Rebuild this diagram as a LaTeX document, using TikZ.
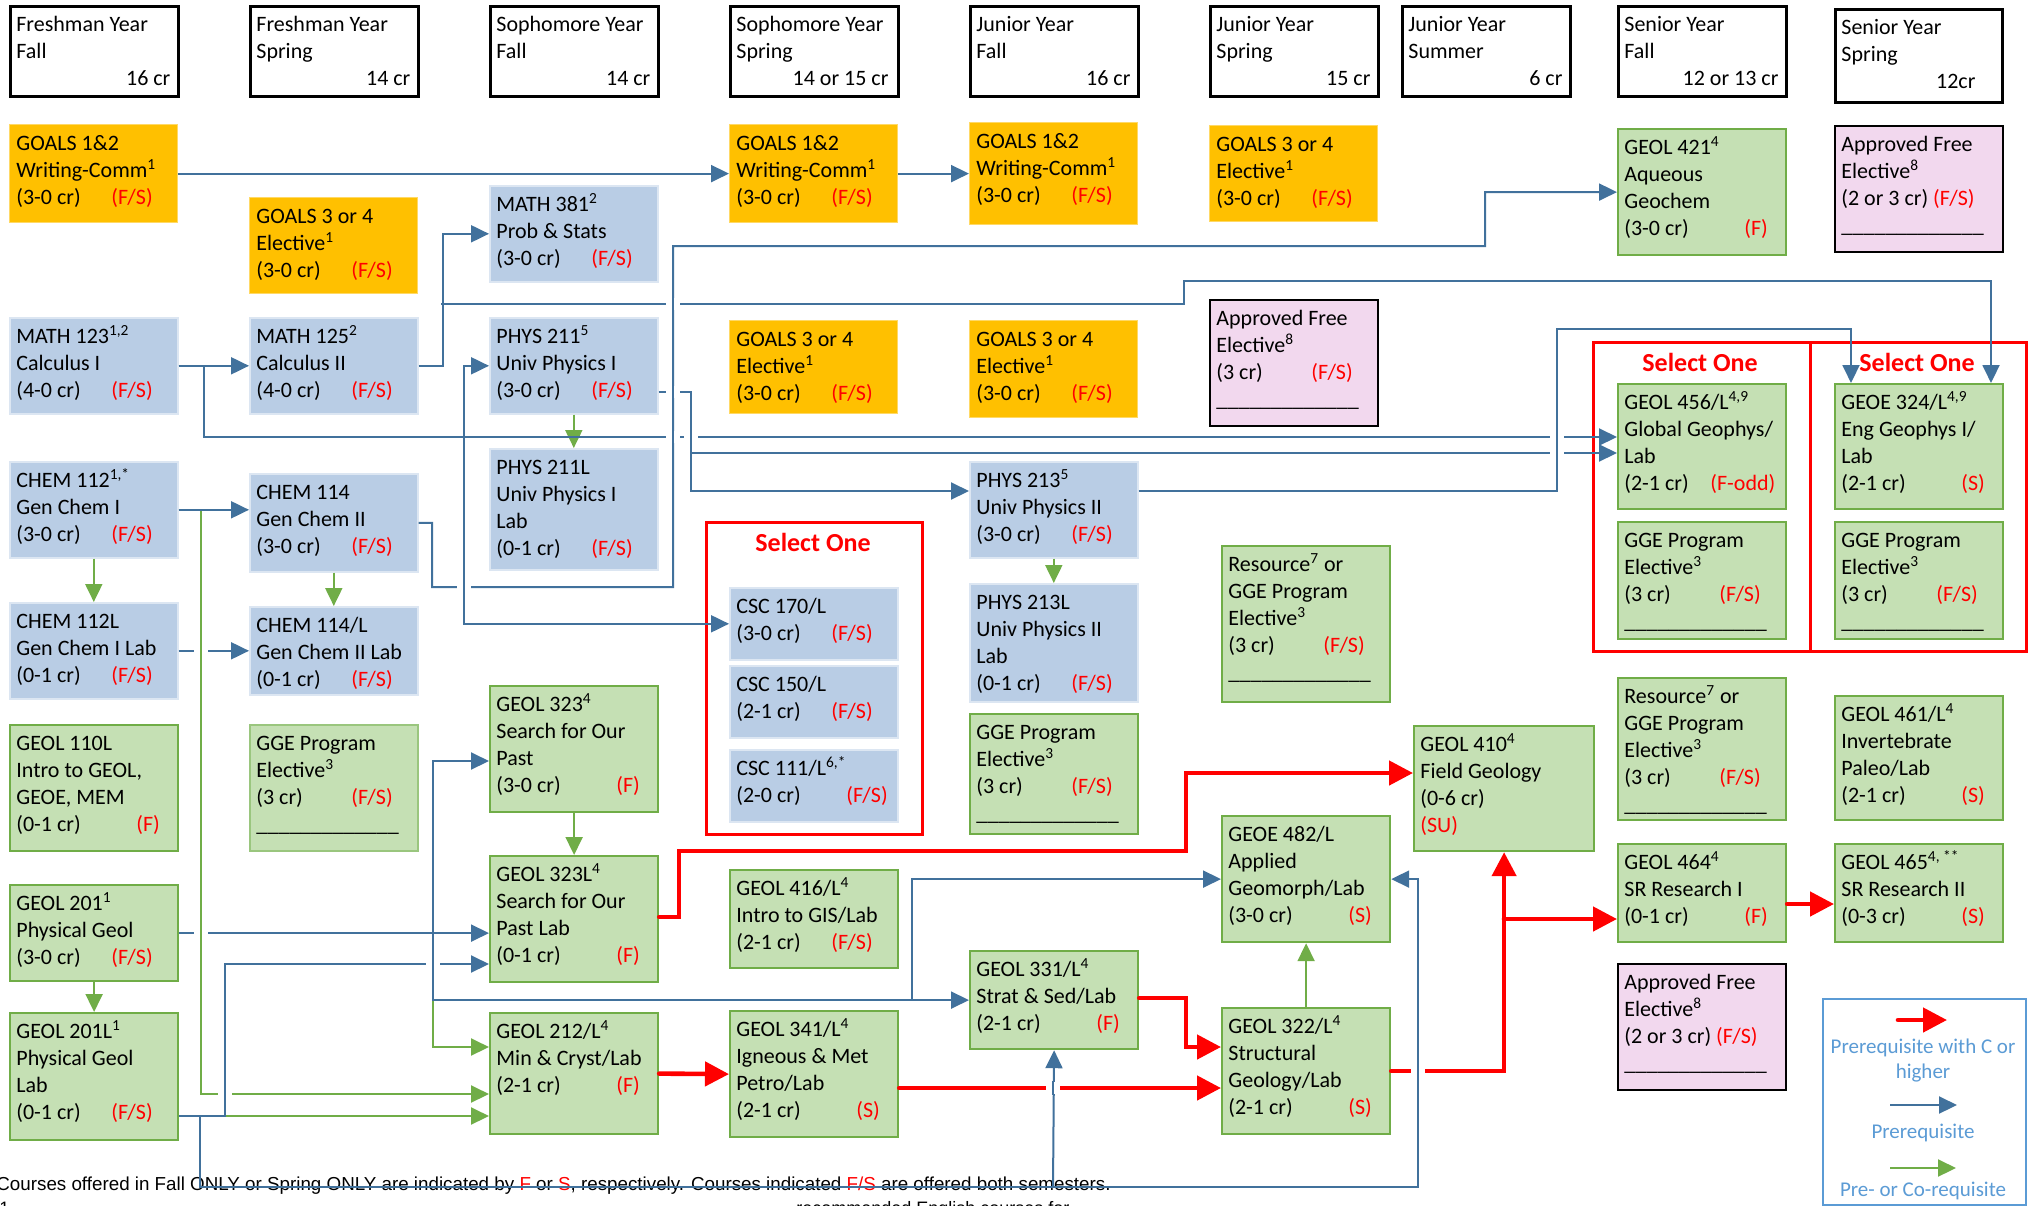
\documentclass[tikz,border=0pt]{standalone}
\usepackage{fontspec}
\usepackage{graphicx}
\setmainfont{Carlito}
\newfontfamily\arialf{Liberation Sans}
\usetikzlibrary{arrows.meta}
\definecolor{bl}{RGB}{65,113,156}
\definecolor{gr}{RGB}{112,173,71}
\definecolor{orf}{RGB}{255,192,0}
\definecolor{blf}{RGB}{185,205,229}
\definecolor{grf}{RGB}{197,224,180}
\definecolor{pkf}{RGB}{242,216,238}
\definecolor{lg}{RGB}{91,155,213}
\definecolor{rd}{RGB}{255,0,0}
\newcommand\sps[1]{\textsuperscript{#1}}
\newcommand\tg[3]{\makebox[#1pt][l]{#2}\textcolor{rd}{#3}}
\newcommand\blnk{\_\_\_\_\_\_\_\_\_\_\_\_\_}
\newcommand\crs[7]{%
  \node[#2, anchor=north west, minimum width=#5pt, minimum height=#6pt] (#1) at (#3,#4) {};
  \node[txt] (#1-t) at ([xshift=3.5pt,yshift=-3.5pt]#1.north west) {\strut #7};}
\newcommand\gap[4]{%
  \fill[white] (#1-7,#2-6) rectangle (#1+7,#2+6);
  \draw[#3, line width=#4] (#1,#2-7) -- (#1,#2+7);}
\begin{document}
\begin{tikzpicture}[x=0.5pt,y=-0.5pt,
  txt/.style={inner sep=0pt, anchor=north west, align=left, font=\fontsize{11}{13.5}\selectfont},
  hdr/.style={draw=black, line width=1.3pt, fill=white, inner sep=0pt},
  ob/.style={fill=orf, draw=orf!60!white, line width=0.6pt, inner sep=0pt},
  bb/.style={fill=blf, draw=blf!50!white, line width=0.8pt, inner sep=0pt},
  gb/.style={fill=grf, draw=gr, line width=1.1pt, inner sep=0pt},
  gbl/.style={fill=grf, draw=gr!50!grf, line width=0.8pt, inner sep=0pt},
  pb/.style={fill=pkf, draw=black, line width=1.2pt, inner sep=0pt},
  selbox/.style={draw=rd, line width=1.6pt, inner sep=0pt, anchor=north west},
  seltitle/.style={text=rd, font=\bfseries\fontsize{13}{15}\selectfont, inner sep=0pt},
  pre/.style={draw=bl, line width=1pt, -{Triangle[length=9pt,width=8.5pt]}},
  ln/.style={draw=bl, line width=1pt},
  co/.style={draw=gr, line width=1pt, -{Triangle[length=9pt,width=8.5pt]}},
  crit/.style={draw=rd, line width=2.3pt, line cap=round, -{Triangle[length=12pt,width=12pt]}},
  lgt/.style={text=lg, align=center, inner sep=0pt, font=\fontsize{10.5}{12.5}\selectfont}]
\useasboundingbox (0,0) rectangle (2028,1205);
\fill[white] (0,0) rectangle (2028,1205);

% footnote text (under the lines)
\node[anchor=west, inner sep=0pt] (fn) at (-4,1186) {\resizebox{557pt}{!}{\arialf\fontsize{9}{11}\selectfont Courses offered in Fall ONLY or Spring ONLY are indicated by \textcolor{rd}{F} or \textcolor{rd}{S}, respectively. Courses indicated \textcolor{rd}{F/S} are offered both semesters.}};
\node[anchor=base west, inner sep=0pt, font=\arialf\fontsize{9}{11}\selectfont] (fn1) at (-1,1214) {1};
\node[anchor=base west, inner sep=0pt, font=\arialf\fontsize{9}{11}\selectfont] (fn2) at (796,1214) {recommended English courses for};

% select-one frames
\node[selbox, minimum width=108pt, minimum height=156pt] (s4) at (705,521) {};
\node[selbox, minimum width=108.5pt, minimum height=154.5pt] (s8) at (1592,341) {};
\node[selbox, minimum width=108pt, minimum height=154.5pt] (s9) at (1809,341) {};
\node[seltitle] (s4t) at (813,542) {Select One};
\node[seltitle] (s8t) at (1700,362) {Select One};
\node[seltitle] (s9t) at (1917,362) {Select One};

% headers
\crs{hFF}{hdr}{9}{5}{84}{45}{Freshman Year\\Fall\\\makebox[77pt][r]{16 cr}}
\crs{hFSp}{hdr}{249}{5}{84}{45}{Freshman Year\\Spring\\\makebox[77pt][r]{14 cr}}
\crs{hSoF}{hdr}{489}{5}{84}{45}{Sophomore Year\\Fall\\\makebox[77pt][r]{14 cr}}
\crs{hSoSp}{hdr}{729}{5}{84}{45}{Sophomore Year\\Spring\\\makebox[76pt][r]{14 or 15 cr}}
\crs{hJF}{hdr}{969}{5}{84}{45}{Junior Year\\Fall\\\makebox[77pt][r]{16 cr}}
\crs{hJSp}{hdr}{1209}{5}{84}{45}{Junior Year\\Spring\\\makebox[77pt][r]{15 cr}}
\crs{hJSu}{hdr}{1401}{5}{84}{45}{Junior Year\\Summer\\\makebox[77pt][r]{6 cr}}
\crs{hSeF}{hdr}{1617}{5}{84}{45}{Senior Year\\Fall\\\makebox[77pt][r]{12 or 13 cr}}
\crs{hSeSp}{hdr}{1834}{8}{83.5}{46.5}{Senior Year\\Spring\\\makebox[67pt][r]{12cr}}

% orange
\crs{g1}{ob}{9}{124}{84}{49}{GOALS 1\&2\\Writing-Comm\sps{1}\\\tg{47.5}{(3-0 cr)}{(F/S)}}
\crs{g2}{ob}{249}{197}{84}{48}{GOALS 3 or 4\\Elective\sps{1}\\\tg{47.5}{(3-0 cr)}{(F/S)}}
\crs{g3}{ob}{729}{124}{84}{49}{GOALS 1\&2\\Writing-Comm\sps{1}\\\tg{47.5}{(3-0 cr)}{(F/S)}}
\crs{g4}{ob}{729}{320}{84}{46.5}{GOALS 3 or 4\\Elective\sps{1}\\\tg{47.5}{(3-0 cr)}{(F/S)}}
\crs{g5}{ob}{969}{122}{84}{51}{GOALS 1\&2\\Writing-Comm\sps{1}\\\tg{47.5}{(3-0 cr)}{(F/S)}}
\crs{g6}{ob}{969}{320}{84}{48.5}{GOALS 3 or 4\\Elective\sps{1}\\\tg{47.5}{(3-0 cr)}{(F/S)}}
\crs{g7}{ob}{1209}{125}{84}{48}{GOALS 3 or 4\\Elective\sps{1}\\\tg{47.5}{(3-0 cr)}{(F/S)}}

% blue
\crs{m123}{bb}{9}{317}{84}{48}{MATH 123\sps{1,2}\\Calculus I\\\tg{47.5}{(4-0 cr)}{(F/S)}}
\crs{m125}{bb}{249}{317}{84}{48}{MATH 125\sps{2}\\Calculus II\\\tg{47.5}{(4-0 cr)}{(F/S)}}
\crs{m381}{bb}{489}{185}{84}{48}{MATH 381\sps{2}\\Prob \& Stats\\\tg{47.5}{(3-0 cr)}{(F/S)}}
\crs{p211}{bb}{489}{317}{84}{48}{PHYS 211\sps{5}\\Univ Physics I\\\tg{47.5}{(3-0 cr)}{(F/S)}}
\crs{p211L}{bb}{489}{448}{84}{60.5}{PHYS 211L\\Univ Physics I\\Lab\\\tg{47.5}{(0-1 cr)}{(F/S)}}
\crs{c112}{bb}{9}{461}{84}{48}{CHEM 112\sps{1,*}\\Gen Chem I\\\tg{47.5}{(3-0 cr)}{(F/S)}}
\crs{c112L}{bb}{9}{602}{84}{48}{CHEM 112L\\Gen Chem I Lab\\\tg{47.5}{(0-1 cr)}{(F/S)}}
\crs{c114}{bb}{249}{473}{84}{49}{CHEM 114\\Gen Chem II\\\tg{47.5}{(3-0 cr)}{(F/S)}}
\crs{c114L}{bb}{249}{606}{84}{44}{CHEM 114/L\\Gen Chem II Lab\\\tg{47.5}{(0-1 cr)}{(F/S)}}
\crs{csc170}{bb}{729}{587}{84}{36}{CSC 170/L\\\tg{47.5}{(3-0 cr)}{(F/S)}}
\crs{csc150}{bb}{729}{665}{84}{36}{CSC 150/L\\\tg{47.5}{(2-1 cr)}{(F/S)}}
\crs{csc111}{bb}{729}{749}{84}{36}{CSC 111/L\sps{6,*}\\\tg{55}{(2-0 cr)}{(F/S)}}
\crs{p213}{bb}{969}{461}{84}{48}{PHYS 213\sps{5}\\Univ Physics II\\\tg{47.5}{(3-0 cr)}{(F/S)}}
\crs{p213L}{bb}{969}{583}{84}{59}{PHYS 213L\\Univ Physics II\\Lab\\\tg{47.5}{(0-1 cr)}{(F/S)}}

% green
\crs{g110}{gb}{9}{724}{84}{63}{GEOL 110L\\Intro to GEOL,\\GEOE, MEM\\\tg{60}{(0-1 cr)}{(F)}}
\crs{gge2}{gbl}{249}{724}{84}{63}{GGE Program\\Elective\sps{3}\\\tg{47.5}{(3 cr)}{(F/S)}\\\blnk}
\crs{g201}{gb}{9}{884}{84}{48}{GEOL 201\sps{1}\\Physical Geol\\\tg{47.5}{(3-0 cr)}{(F/S)}}
\crs{g201L}{gb}{9}{1012}{84}{63.5}{GEOL 201L\sps{1}\\Physical Geol\\Lab\\\tg{47.5}{(0-1 cr)}{(F/S)}}
\crs{g323}{gb}{489}{685}{84}{63}{GEOL 323\sps{4}\\Search for Our\\Past\\\tg{60}{(3-0 cr)}{(F)}}
\crs{g323L}{gb}{489}{855}{84}{63}{GEOL 323L\sps{4}\\Search for Our\\Past Lab\\\tg{60}{(0-1 cr)}{(F)}}
\crs{g212}{gb}{489}{1012}{84}{60.5}{GEOL 212/L\sps{4}\\Min \& Cryst/Lab\\\tg{60}{(2-1 cr)}{(F)}}
\crs{g416}{gb}{729}{869}{84}{49}{GEOL 416/L\sps{4}\\Intro to GIS/Lab\\\tg{47.5}{(2-1 cr)}{(F/S)}}
\crs{g341}{gb}{729}{1010}{84}{63}{GEOL 341/L\sps{4}\\Igneous \& Met\\Petro/Lab\\\tg{60}{(2-1 cr)}{(S)}}
\crs{gge5}{gb}{969}{713}{84}{60}{GGE Program\\Elective\sps{3}\\\tg{47.5}{(3 cr)}{(F/S)}\\\blnk}
\crs{g331}{gb}{969}{950}{84}{49}{GEOL 331/L\sps{4}\\Strat \& Sed/Lab\\\tg{60}{(2-1 cr)}{(F)}}
\crs{res6}{gb}{1221}{545}{84}{78}{Resource\sps{7} or\\GGE Program\\Elective\sps{3}\\\tg{47.5}{(3 cr)}{(F/S)}\\\blnk}
\crs{g482}{gb}{1221}{815}{84}{63}{GEOE 482/L\\Applied\\Geomorph/Lab\\\tg{60}{(3-0 cr)}{(S)}}
\crs{g322}{gb}{1221}{1007}{84}{63}{GEOL 322/L\sps{4}\\Structural\\Geology/Lab\\\tg{60}{(2-1 cr)}{(S)}}
\crs{g410}{gb}{1413}{725}{90}{62.5}{GEOL 410\sps{4}\\Field Geology\\(0-6 cr)\\\textcolor{rd}{(SU)}}
\crs{g421}{gb}{1617}{128}{84}{63}{GEOL 421\sps{4}\\Aqueous\\Geochem\\\tg{60}{(3-0 cr)}{(F)}}
\crs{g456}{gb}{1617}{383}{84}{62.5}{GEOL 456/L\sps{4,9}\\Global Geophys/\\Lab\\\tg{43}{(2-1 cr)}{(F-odd)}}
\crs{gge8}{gb}{1617}{521}{84}{58.5}{GGE Program\\Elective\sps{3}\\\tg{47.5}{(3 cr)}{(F/S)}\\\blnk}
\crs{res8}{gb}{1617}{677}{84}{71}{Resource\sps{7} or\\GGE Program\\Elective\sps{3}\\\tg{47.5}{(3 cr)}{(F/S)}\\\blnk}
\crs{g464}{gb}{1617}{843}{84}{49}{GEOL 464\sps{4}\\SR Research I\\\tg{60}{(0-1 cr)}{(F)}}
\crs{g324}{gb}{1834}{383}{84}{62.5}{GEOE 324/L\sps{4,9}\\Eng Geophys I/\\Lab\\\tg{60}{(2-1 cr)}{(S)}}
\crs{gge9}{gb}{1834}{521}{84}{58.5}{GGE Program\\Elective\sps{3}\\\tg{47.5}{(3 cr)}{(F/S)}\\\blnk}
\crs{g461}{gb}{1834}{695}{84}{62}{GEOL 461/L\sps{4}\\Invertebrate\\Paleo/Lab\\\tg{60}{(2-1 cr)}{(S)}}
\crs{g465}{gb}{1834}{843}{84}{49}{GEOL 465\sps{4, **}\\SR Research II\\\tg{60}{(0-3 cr)}{(S)}}

% pink
\crs{pk6}{pb}{1209}{299}{84}{63}{Approved Free\\Elective\sps{8}\\\tg{47.5}{(3 cr)}{(F/S)}\\\blnk}
\crs{pk9}{pb}{1834}{125}{84}{63}{Approved Free\\Elective\sps{8}\\(2 or 3 cr) \textcolor{rd}{(F/S)}\\\blnk}
\crs{pk8}{pb}{1617}{963}{84}{63}{Approved Free\\Elective\sps{8}\\(2 or 3 cr) \textcolor{rd}{(F/S)}\\\blnk}

% ---------- green connectors ----------
\draw[co] (c112.south) -- (c112L.north);
\draw[co] (c114.south) -- (c114L.north);
\draw[co] (p211.south) -- (p211L.north);
\draw[co] (p213.south) -- (p213L.north);
\draw[co] (g323.south) -- (g323L.north);
\draw[co] (g201.south) -- (g201L.north);
\draw[co] (g322.north) -- (g482.south);
\draw[co] (c112.east) -| (201,1094) -- (g212.west |- 0,1094);
\draw[co] (g201.east) -| (433,1047) -- (g212.west |- 0,1047);
\draw[co] (g201L.east |- 0,1116) -- (g212.west |- 0,1116);

% ---------- blue connectors ----------
\draw[pre] (g1.east) -- (g3.west);
\draw[pre] (g3.east) -- (g5.west);
\draw[pre] (m123.east) -- (m125.west);
\draw[pre] (m125.east) -- ++(24,0) |- (m381.west);
\coordinate (j125) at (441,304);
\draw[pre] (j125) -- (1184,304) |- (1991,281) -- (1991,0 |- g324.north);
\draw[pre] (m123.east) -| (204,437) -- (g456.west |- 0,437);
\coordinate (j123) at (464,437);
\draw[pre] (j123) |- (p211.west);
\draw[pre] (j123) |- (csc170.west);
\draw[pre] (p211.east |- 0,392) -| (691,491) -- (p213.west |- 0,491);
\coordinate (j211) at (691,453);
\draw[pre] (j211) -- (g456.west |- 0,453);
\draw[pre] (p213.east |- 0,491) -| (1557,329) -| (1851,0 |- g324.north);
\draw[pre] (c112.east) -- (c112.east -| c114.west);
\draw[pre] (c112L.east) -- (c114L.west);
\draw[pre] (c114.east) -| (432,587) -| (673,246) -| (1485,192) -- (g421.west);
\draw[pre] (g201.east) -- (g323L.west |- g201.east);
\coordinate (j201) at (433,932);
\draw[pre] (j201) |- (g323.west |- 0,761);
\draw[pre] (j201) |- (g331.west);
\coordinate (j331) at (912,999);
\draw[pre] (j331) |- (g482.west);
\draw[pre] (g201L.east |- 0,1116) -| (225,964) -- (g323L.west |- 0,964);
\coordinate (j201L) at (200,1116);
\draw[pre] (j201L) |- (1418,1187) |- (g482.east);
\coordinate (jb) at (1053,1187);
\draw[pre] (jb) -- (g331.south);

% ---------- red connectors ----------
\draw[crit] (g323L.east |- 0,917) -| (679,851) -| (1186,773) -- (g410.west |- 0,773);
\draw[crit] (g212.east) -- (g341.west);
\draw[crit] (g341.east |- 0,1088) -- (g322.west |- 0,1088);
\draw[crit] (g331.east |- 0,998) -| (1186,1047) -- (g322.west |- 0,1047);
\draw[crit] (g322.east) -| (g410.south);
\coordinate (j322) at (1504,919);
\draw[crit] (j322) -- (g464.west |- 0,919);
\draw[crit] (g464.east |- 0,904) -- (g465.west |- 0,904);

% ---------- crossing gaps ----------
\gap{673}{304}{bl}{1pt}
\gap{673}{392}{bl}{1pt}
\gap{673}{437}{bl}{1pt}
\gap{691}{437}{bl}{1pt}
\gap{1557}{437}{bl}{1pt}
\gap{1557}{453}{bl}{1pt}
\gap{464}{587}{bl}{1pt}
\gap{433}{964}{bl}{1pt}
\gap{201}{650}{gr}{1pt}
\gap{201}{932}{gr}{1pt}
\gap{225}{1094}{bl}{1pt}
\gap{1053}{1088}{bl}{1pt}
\gap{1418}{1070}{bl}{1pt}

% ---------- legend ----------
\node[draw=lg, line width=1pt, minimum width=101.5pt, minimum height=103pt, anchor=north west, inner sep=0pt] (leg) at (1822,998) {};
\coordinate (lr1) at (1898,1020); \coordinate (lr2) at (1947,1020);
\draw[crit] (lr1) -- (lr2);
\node[lgt] (lt1) at (1923,1060) {Prerequisite with C or\\higher};
\coordinate (lb1) at (1890,1105); \coordinate (lb2) at (1957,1105);
\draw[pre] (lb1) -- (lb2);
\node[lgt] (lt2) at (1923,1133) {Prerequisite};
\coordinate (lg1) at (1890,1168); \coordinate (lg2) at (1956,1168);
\draw[co] (lg1) -- (lg2);
\node[lgt] (lt3) at (1923,1191) {Pre- or Co-requisite};
\end{tikzpicture}
\end{document}
